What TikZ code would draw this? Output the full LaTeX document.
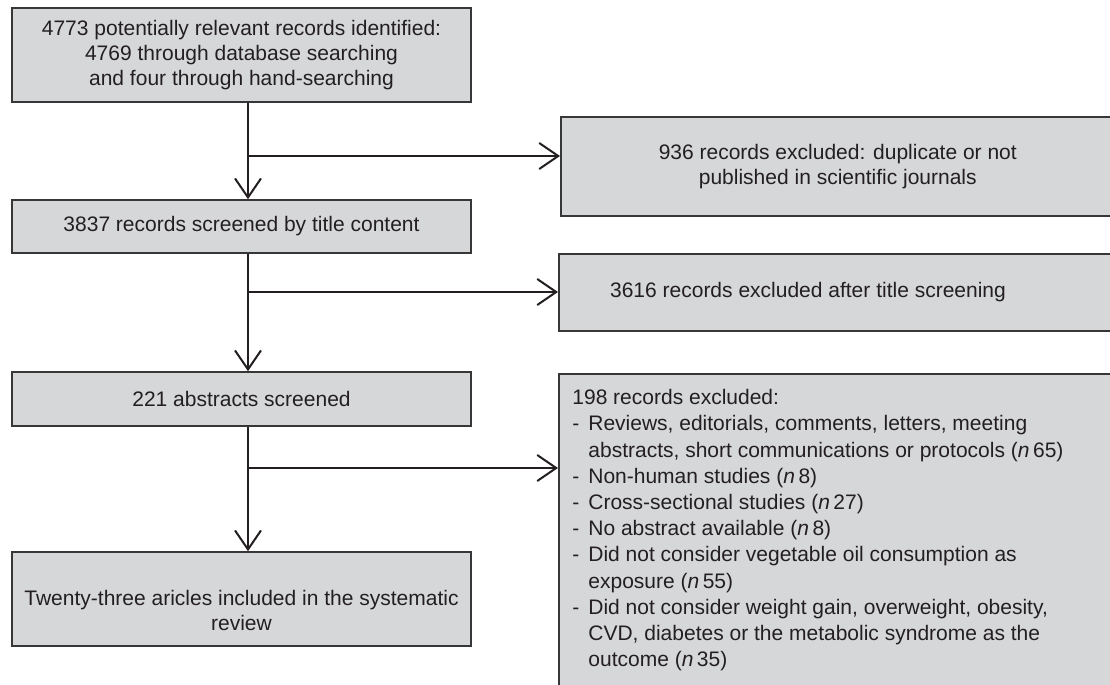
\documentclass[tikz,border=0pt]{standalone}
\usepackage{fontspec}
\setmainfont{Liberation Sans}
\usetikzlibrary{arrows.meta,calc}
\definecolor{boxgray}{RGB}{214,215,217}
\definecolor{edgegray}{RGB}{55,55,55}
\definecolor{inkgray}{RGB}{35,31,32}
\newcommand{\itm}{\makebox[8pt][l]{-}}
\newcommand{\cnt}{\hspace*{8pt}}
\tikzset{
  stage/.style={rectangle,draw=edgegray,fill=boxgray,line width=0.8pt,inner sep=0pt,minimum width=229.5pt,align=center,text=inkgray},
  excl/.style={rectangle,draw=edgegray,fill=boxgray,line width=0.8pt,inner sep=0pt,anchor=north west,minimum width=290pt,align=center,text=inkgray},
  flow/.style={draw=inkgray,line width=1pt,-{Straight Barb[length=9.5pt,width=13pt]}}
}
\begin{document}
\begin{tikzpicture}[x=0.5pt,y=-0.5pt,font=\fontsize{10.5}{12.6}\selectfont]
    \useasboundingbox (0,0) rectangle (1110,685);
    \clip (0,0) rectangle (1110,685);

    % left column
    \node[stage,minimum height=47pt] (found) at (241.5,55) {4773 potentially relevant records identified:\\4769 through database searching\\and four through hand-searching};
    \node[stage,minimum height=26.5pt] (screened) at (241.5,226.5) {3837 records screened by title content};
    \node[stage,minimum height=27pt] (abstracts) at (241.5,399) {221 abstracts screened};
    \node[stage,minimum height=47pt] (included) at (241.5,599) {};
    \node[text=inkgray,align=center,yshift=-5.75pt] at (included) {Twenty-three aricles included in the systematic\\review};

    % right column
    \node[excl,minimum width=277pt,minimum height=49.5pt] (dupl) at (560,116) {936 records excluded: duplicate or not\\published in scientific journals};
    \node[excl,minimum height=38.5pt] (titlex) at (558,253) {};
    \node[text=inkgray] at (808,292) {3616 records excluded after title screening};
    \node[excl,minimum height=200pt] (absx) at (558,373) {};
    \node[text=inkgray,align=left,inner sep=0pt,anchor=north west,font=\fontsize{10.5}{13.1}\selectfont] at (572,389) {198 records excluded:\\
        \itm Reviews, editorials, comments, letters, meeting\\
        \cnt abstracts, short communications or protocols (\textit{n}\,65)\\
        \itm Non-human studies (\textit{n}\,8)\\
        \itm Cross-sectional studies (\textit{n}\,27)\\
        \itm No abstract available (\textit{n}\,8)\\
        \itm Did not consider vegetable oil consumption as\\
        \cnt exposure (\textit{n}\,55)\\
        \itm Did not consider weight gain, overweight, obesity,\\
        \cnt CVD, diabetes or the metabolic syndrome as the\\
        \cnt outcome (\textit{n}\,35)};

    % connectors
    \coordinate (spine) at (248,0);
    \coordinate (b1) at (248,156);
    \coordinate (b2) at (248,292);
    \coordinate (b3) at (248,468);
    \draw[flow] (found.south -| spine) -- (screened.north -| spine);
    \draw[flow] (screened.south -| spine) -- (abstracts.north -| spine);
    \draw[flow] (abstracts.south -| spine) -- (included.north -| spine);
    \draw[flow] (b1) -- (b1 -| dupl.west);
    \draw[flow] (b2) -- (b2 -| titlex.west);
    \draw[flow] (b3) -- (b3 -| absx.west);
\end{tikzpicture}
\end{document}
